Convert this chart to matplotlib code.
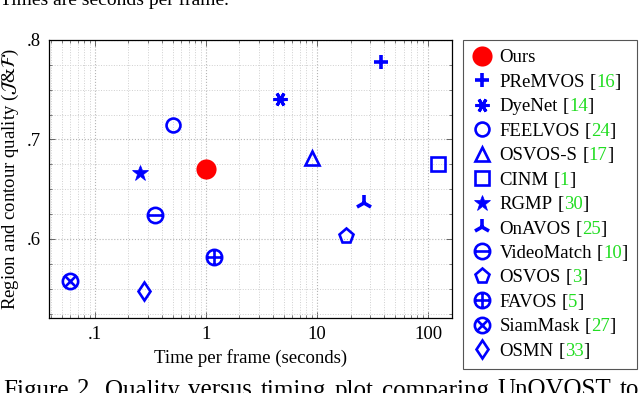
import numpy as np
import matplotlib
matplotlib.use("Agg")
import matplotlib.pyplot as plt
from matplotlib.path import Path
from matplotlib.ticker import FixedLocator, LogLocator, NullFormatter, MultipleLocator

plt.rcParams.update(
    {
        "font.family": ["Liberation Serif", "DejaVu Serif"],
        "mathtext.fontset": "stix",
    }
)

# ==================================================
# data
# ==================================================
methods = ["Ours", "PReMVOS", "DyeNet", "FEELVOS", "OSVOS-S", "CINM", "RGMP",
           "OnAVOS", "VideoMatch", "OSVOS", "FAVOS", "SiamMask", "OSMN"]
refs = ["", "16", "14", "24", "17", "1", "30", "25", "10", "3", "5", "27", "33"]
times = [1.0, 37.4, 4.67, 0.50, 9.0, 122.0, 0.256, 26.3, 0.344, 18.1, 1.18, 0.0596, 0.274]
scores = [0.670, 0.778, 0.741, 0.715, 0.681, 0.675, 0.666, 0.636, 0.624, 0.603, 0.582, 0.558, 0.548]

x_ticks = [0.1, 1, 10, 100]
x_ticklabels = [".1", "1", "10", "100"]
y_ticks = [0.6, 0.7, 0.8]
y_ticklabels = [".6", ".7", ".8"]

caption_top = "Times are seconds per frame."
caption_bottom = "Figure 2. Quality versus timing plot comparing UnOVOST to"

# ==================================================
# custom circle markers
# ==================================================
circ = Path.unit_circle()
hline = Path([[-1, 0], [1, 0]], [Path.MOVETO, Path.LINETO])
vline = Path([[0, -1], [0, 1]], [Path.MOVETO, Path.LINETO])
d = np.sqrt(0.5)
diag1 = Path([[-d, -d], [d, d]], [Path.MOVETO, Path.LINETO])
diag2 = Path([[-d, d], [d, -d]], [Path.MOVETO, Path.LINETO])
ominus = Path.make_compound_path(circ, hline)
oplus = Path.make_compound_path(circ, hline, vline)
otimes = Path.make_compound_path(circ, diag1, diag2)

BLUE = "#0000ff"
GREEN = "#22dd22"
# marker, size, edge width, filled
STYLES = [
    ("o", 14.5, 0.0, True),
    ("+", 10, 2.6, False),
    ((6, 2, 90), 10, 2.2, False),
    ("o", 10, 1.9, False),
    ("^", 10, 1.9, False),
    ("s", 10, 1.9, False),
    ("*", 12, 0.5, True),
    ("2", 12, 2.6, False),
    (ominus, 11, 1.9, False),
    ("p", 11, 1.9, False),
    (oplus, 11, 1.9, False),
    (otimes, 11, 1.9, False),
    ("d", 9.5, 1.9, False),
]

fig = plt.figure(figsize=(6.4, 3.93), dpi=100)
ax = fig.add_axes([49 / 640, 75 / 393, 403 / 640, 278 / 393])

for i, (name, t, s) in enumerate(zip(methods, times, scores)):
    mk, ms, mew, filled = STYLES[i]
    color = "red" if i == 0 else BLUE
    ax.plot(
        [t], [s],
        linestyle="none",
        marker=mk,
        markersize=ms,
        markeredgewidth=mew,
        markeredgecolor=color,
        markerfacecolor=color if filled else "none",
        label=name,
        zorder=4,
    )

ax.set_xscale("log")
ax.set_xlim(0.0385, 164)
ax.set_ylim(0.5205, 0.8)

ax.xaxis.set_major_locator(FixedLocator(x_ticks))
ax.set_xticklabels(x_ticklabels)
ax.xaxis.set_minor_locator(LogLocator(base=10, subs=np.arange(2, 10)))
ax.xaxis.set_minor_formatter(NullFormatter())
ax.yaxis.set_major_locator(FixedLocator(y_ticks))
ax.set_yticklabels(y_ticklabels)
ax.yaxis.set_minor_locator(MultipleLocator(0.025))

ax.grid(which="major", linestyle=":", color="#b4b4b4", linewidth=0.8)
ax.grid(which="minor", linestyle=":", color="#cfcfcf", linewidth=0.7)
ax.set_axisbelow(True)

ax.tick_params(which="both", direction="in", top=True, right=True,
               color="#666666", labelsize=13.5)
ax.tick_params(which="major", length=4, width=0.7, pad=6)
ax.tick_params(which="minor", length=2, width=0.6)
for sp in ax.spines.values():
    sp.set_linewidth(0.9)

ax.set_xlabel("Time per frame (seconds)", fontsize=13.5, labelpad=4)
ax.set_ylabel(r"Region and contour quality ($\mathcal{J}$&$\mathcal{F}$)",
              fontsize=13.5, labelpad=4)

# ==================================================
# legend: fixed-width box, reference numbers appended in green
# ==================================================
LEG_FS = 13.5
leg = ax.legend(
    loc="upper left",
    bbox_to_anchor=(463 / 640, 28 / 393, 174 / 640, 325 / 393),
    bbox_transform=fig.transFigure,
    mode="expand",
    fontsize=LEG_FS,
    frameon=True,
    fancybox=False,
    edgecolor="#555555",
    framealpha=1,
    borderpad=0.5,
    labelspacing=0.39,
    handlelength=1.0,
    handletextpad=0.45,
    borderaxespad=0,
    numpoints=1,
)
leg.get_frame().set_linewidth(0.8)

for txt, ref in zip(leg.get_texts(), refs):
    if not ref:
        continue
    kw = dict(va="bottom", ha="left", fontsize=LEG_FS,
              annotation_clip=False, zorder=10)
    a0 = ax.annotate("[", xy=(1, 0), xycoords=txt, xytext=(3.4, 0),
                     textcoords="offset points", **kw)
    a1 = ax.annotate(ref, xy=(1, 0), xycoords=a0, color=GREEN, **kw)
    ax.annotate("]", xy=(1, 0), xycoords=a1, **kw)

# ==================================================
# cropped caption text above and below
# ==================================================
fig.text(0.0, 1 - 5.3 / 393, caption_top, fontsize=14, va="baseline", ha="left")

fig.canvas.draw()
renderer = fig.canvas.get_renderer()
words = caption_bottom.split()
word_texts = [fig.text(0, -3.5 / 393, w, fontsize=18, va="baseline", ha="left")
              for w in words]
widths = [t.get_window_extent(renderer).width for t in word_texts]
x0, x1 = 3, 639
gap = (x1 - x0 - sum(widths)) / (len(words) - 1)
xpos = x0
for t, w in zip(word_texts, widths):
    t.set_x(xpos / 640)
    xpos += w + gap

fig.savefig("out.png", dpi=100)
